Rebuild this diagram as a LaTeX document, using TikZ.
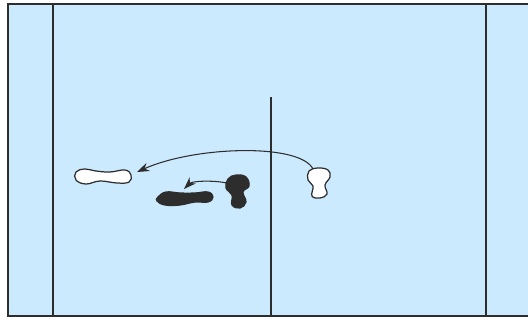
\documentclass[tikz,border=0pt]{standalone}
\usepackage{xcolor}
\usetikzlibrary{arrows.meta}
\definecolor{pool}{RGB}{204,234,254}
\definecolor{ink}{RGB}{45,45,45}
\tikzset{
  wall/.style={draw=ink,line width=1.1pt},
  lightfoot/.style={draw=ink,fill=white,line width=0.7pt},
  darkfoot/.style={draw=ink,fill=ink,line width=0.7pt},
  move/.style={draw=ink,line width=0.6pt,-{Stealth[length=7pt,width=5pt]}}
}
\begin{document}
\begin{tikzpicture}[x=0.02cm,y=-0.02cm]
            \useasboundingbox (0,0) rectangle (528,322);
            \clip (0,0) rectangle (528,322);
            \fill[white] (0,0) rectangle (528,322);
            \draw[wall,fill=pool] (8,4) rectangle (545,316);
            \draw[wall] (53,4) -- (53,316);
            \draw[wall] (486,4) -- (486,316);
            \draw[wall] (271,97) -- (271,316);
            % footprints
            \draw[lightfoot] plot[smooth cycle,tension=0.7] coordinates {(76,172) (85,169) (96,171) (110,172) (125,170) (131,175) (129,182) (117,183) (100,181) (86,184) (76,180)};
            \draw[lightfoot] plot[smooth cycle,tension=0.7] coordinates {(309,171) (318,168) (328,170) (330,177) (325,185) (327,194) (320,198) (312,196) (313,186) (308,180)};
            \draw[darkfoot] plot[smooth cycle,tension=0.7] coordinates {(228,179) (236,175) (246,177) (249,186) (243,192) (246,202) (240,208) (232,205) (232,195) (226,188)};
            \draw[darkfoot] plot[smooth cycle,tension=0.7] coordinates {(158,197) (166,192) (180,193) (195,193) (208,192) (213,197) (208,202) (195,202) (180,205) (165,205) (157,201)};
            % moves
            \coordinate (w1) at (313,169);
            \coordinate (w2) at (137,172);
            \coordinate (b1) at (227,183);
            \coordinate (b2) at (184,189);
            \draw[move] (w1) .. controls (300,143) and (195,146) .. (w2);
            \draw[move] (b1) .. controls (212,180) and (192,181) .. (b2);
        \end{tikzpicture}
\end{document}
